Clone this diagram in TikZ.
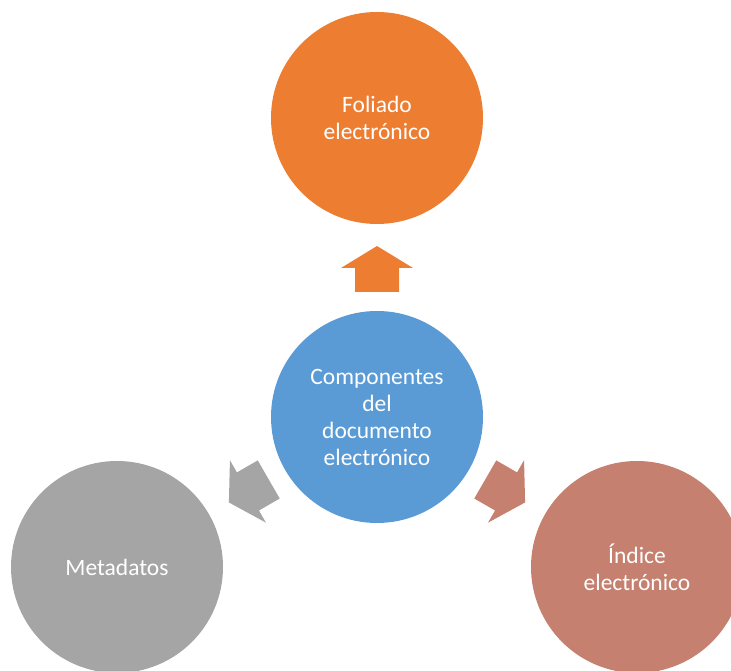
\documentclass[tikz,border=0pt]{standalone}
\usepackage{fontspec}
\setmainfont{Carlito}
\usetikzlibrary{calc}
\definecolor{myorange}{RGB}{237,125,49}
\definecolor{myblue}{RGB}{91,155,213}
\definecolor{mygray}{RGB}{165,165,165}
\definecolor{myrose}{RGB}{197,128,111}
\tikzset{
  x=1pt, y=1pt,
  bubble/.style={circle,minimum size=212,inner sep=0,outer sep=0,text=white,
    align=center,font=\fontsize{23.5}{27}\selectfont},
  bubble top/.style={bubble,fill=myorange},
  bubble mid/.style={bubble,fill=myblue},
  bubble left/.style={bubble,fill=mygray},
  bubble right/.style={bubble,fill=myrose},
  pics/blockarrow/.style={code={ % back at 0, tip at 46
    \fill (0,-22) -- (24,-22) -- (24,-36) -- (46,0) -- (24,36) -- (24,22) -- (0,22) -- cycle;
  }}
}
\begin{document}
\begin{tikzpicture}
    \useasboundingbox (0,0) rectangle (731,671);
    \node[bubble mid] (doc) at (377,254) {Componentes\\del\\documento\\electrónico};
    \node[bubble top] (folio) at (377,553) {Foliado\\electrónico};
    \node[bubble left] (meta) at (117,104) {Metadatos};
    \node[bubble right] (indice) at (637,104) {Índice\\electrónico};
    % block arrows from the middle bubble
    \pic[myorange, rotate=90] at ($(doc)!125pt!(folio)$) {blockarrow};
    \pic[mygray, rotate=210] at ($(doc)!125pt!(meta)$) {blockarrow};
    \pic[myrose, rotate=-30] at ($(doc)!125pt!(indice)$) {blockarrow};
\end{tikzpicture}
\end{document}
